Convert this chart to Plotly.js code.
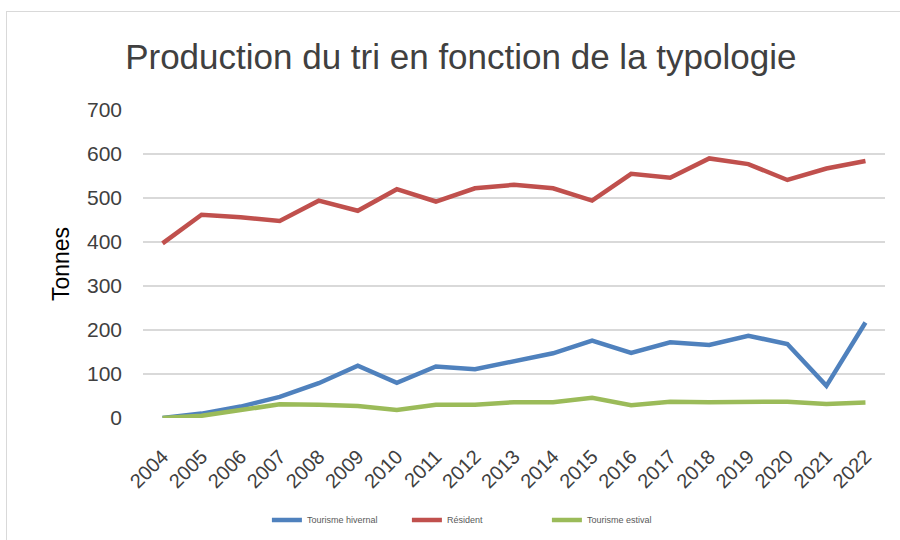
<!DOCTYPE html>
<html>
<head>
<meta charset="utf-8">
<script src="https://cdn.plot.ly/plotly-3.0.1.min.js"></script>
<style>
html,body{margin:0;padding:0;background:#fff;}
#frame{position:absolute;left:6px;top:11px;width:900px;height:540px;border-left:1px solid #d9d9d9;border-top:1px solid #d9d9d9;}
#chart{position:absolute;left:0;top:0;width:900px;height:540px;}
</style>
</head>
<body>
<div id="frame"></div>
<div id="chart"></div>
<script>
const years = ["2004","2005","2006","2007","2008","2009","2010","2011","2012","2013","2014","2015","2016","2017","2018","2019","2020","2021","2022"];
const tourismeHivernal = [0, 10, 26, 48, 79, 119, 80, 117, 111, 128, 147, 176, 148, 172, 166, 187, 168, 73, 217];
const resident = [397, 462, 456, 448, 494, 471, 520, 492, 522, 530, 522, 494, 555, 546, 590, 577, 541, 567, 584];
const tourismeEstival = [0, 5, 18, 31, 30, 27, 18, 30, 30, 36, 36, 46, 29, 37, 36, 37, 37, 32, 35];
const seriesNames = ["Tourisme hivernal", "Résident", "Tourisme estival"];
const colors = ["#4F81BD", "#C0504D", "#9BBB59"];

const allSeries = [tourismeHivernal, resident, tourismeEstival];
const traces = allSeries.map((vals, i) => ({
  type: "scatter",
  mode: "lines",
  x: years,
  y: vals,
  name: seriesNames[i],
  line: {color: colors[i], width: 4.5, shape: "linear"},
  hoverinfo: "x+y+name"
}));

const layout = {
  width: 900,
  height: 540,
  paper_bgcolor: "rgba(0,0,0,0)",
  plot_bgcolor: "rgba(0,0,0,0)",
  margin: {l: 142.5, r: 14.5, t: 110, b: 122, autoexpand: false},
  font: {family: "Liberation Sans, Arial, sans-serif", color: "#404040"},
  title: {
    text: "Production du tri en fonction de la typologie",
    font: {family: "Liberation Sans, Arial, sans-serif", size: 35, color: "#404040"},
    x: 0.512, xanchor: "center", xref: "container",
    y: 0.895, yanchor: "middle", yref: "container"
  },
  xaxis: {
    type: "category",
    range: [-0.5, 18.5],
    tickangle: -45,
    showgrid: false,
    zeroline: false,
    showline: false,
    ticks: "",
    automargin: false,
    ticklabelstandoff: 22,
    tickfont: {size: 20, color: "#404040"},
    fixedrange: true
  },
  yaxis: {
    range: [0, 700],
    dtick: 100,
    tick0: 0,
    showgrid: true,
    gridcolor: "#d9d9d9",
    gridwidth: 1.5,
    zeroline: false,
    showline: false,
    ticks: "",
    automargin: false,
    ticklabelstandoff: 20,
    tickfont: {size: 21, color: "#404040"},
    title: {text: "Tonnes", font: {size: 23, color: "#000000"}, standoff: 10},
    fixedrange: true
  },
  showlegend: true,
  legend: {
    orientation: "h",
    x: 0.45, xanchor: "center",
    y: -0.331, yanchor: "middle",
    font: {size: 9, color: "#595959"},
    entrywidth: 95,
    entrywidthmode: "pixels",
    tracegroupgap: 0
  }
};

Plotly.newPlot("chart", traces, layout, {displayModeBar: false, staticPlot: true});
</script>
</body>
</html>
